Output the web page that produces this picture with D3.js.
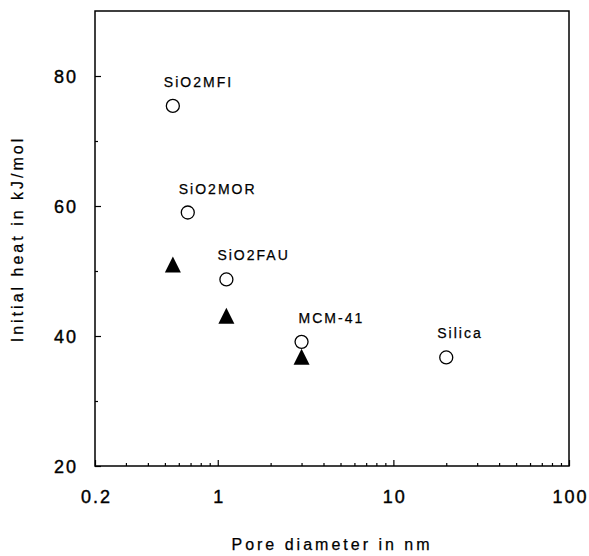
<!DOCTYPE html>
<html>
<head>
<meta charset="utf-8">
<script src="https://cdn.jsdelivr.net/npm/d3@7"></script>
<style>
  body { margin: 0; background: #fff; }
  text { font-family: Arial, "Liberation Sans", sans-serif; fill: #000; }
</style>
</head>
<body>
<div id="chart"></div>
<script>
// open circles: heat of adsorption per sample
const sampleNames = ["SiO2MFI", "SiO2MOR", "SiO2FAU", "MCM-41", "Silica"];
const poreOpen = [0.555, 0.675, 1.12, 3.0, 20];
const heatOpen = [75.4, 59.0, 48.7, 39.1, 36.7];

// filled triangles
const poreFilled = [0.555, 1.12, 3.0];
const heatFilled = [51.0, 43.1, 36.8];

const xMajor = [0.2, 1, 10, 100];
const yMajor = [20, 40, 60, 80];
const yMinor = [30, 50, 70];

const W = 589, H = 556;
const margin = { top: 11, right: 20, bottom: 90, left: 95 };
const width = W - margin.left - margin.right;
const height = H - margin.top - margin.bottom;

const svg = d3.select("#chart").append("svg")
    .attr("width", W)
    .attr("height", H);

const g = svg.append("g")
    .attr("transform", `translate(${margin.left},${margin.top})`);

const x = d3.scaleLog().domain([0.2, 100]).range([0, width]);
const y = d3.scaleLinear().domain([20, 90]).range([height, 0]);

// minor log ticks
let xMinor = [];
[0.1, 1, 10].forEach(dec => {
    for (let k = 2; k <= 9; k++) {
        let v = dec * k;
        if (v > 0.2 + 1e-9 && v < 100 - 1e-9 && Math.abs(v - 1) > 1e-9 && Math.abs(v - 10) > 1e-9) xMinor.push(v);
    }
});

g.append("g")
    .attr("transform", `translate(0,${height})`)
    .call(d3.axisBottom(x).tickValues(xMinor).tickSize(-3).tickFormat(""))
    .call(a => a.select(".domain").remove())
    .call(a => a.selectAll("line").attr("stroke", "#000").attr("stroke-width", 1.2));

g.append("g")
    .attr("transform", `translate(0,${height})`)
    .call(d3.axisBottom(x).tickValues(xMajor).tickSize(-6).tickPadding(24).tickFormat(d => d))
    .call(a => a.select(".domain").remove())
    .call(a => a.selectAll("line").attr("stroke", "#000").attr("stroke-width", 1.2))
    .call(a => a.selectAll("text")
        .attr("font-size", "18px")
        .attr("letter-spacing", "2px")
        .attr("dx", "1px")
        .attr("stroke", "#000")
        .attr("stroke-width", 0.4)
        .style("font-family", "Arial, 'Liberation Sans', sans-serif"));

g.append("g")
    .call(d3.axisLeft(y).tickValues(yMinor).tickSize(-3).tickFormat(""))
    .call(a => a.select(".domain").remove())
    .call(a => a.selectAll("line").attr("stroke", "#000").attr("stroke-width", 1.2));

g.append("g")
    .call(d3.axisLeft(y).tickValues(yMajor).tickSize(-6).tickPadding(17).tickFormat(d => d))
    .call(a => a.select(".domain").remove())
    .call(a => a.selectAll("line").attr("stroke", "#000").attr("stroke-width", 1.2))
    .call(a => a.selectAll("text")
        .attr("font-size", "18px")
        .attr("letter-spacing", "2px")
        .attr("dy", "0.36em")
        .attr("stroke", "#000")
        .attr("stroke-width", 0.4)
        .style("font-family", "Arial, 'Liberation Sans', sans-serif"));

// frame
g.append("rect")
    .attr("width", width)
    .attr("height", height)
    .attr("fill", "none")
    .attr("stroke", "#000")
    .attr("stroke-width", 1.5);

// open circles
g.selectAll("circle.open")
    .data(poreOpen)
    .enter()
    .append("circle")
    .attr("class", "open")
    .attr("cx", d => x(d))
    .attr("cy", (d, i) => y(heatOpen[i]))
    .attr("r", 6.5)
    .attr("fill", "#fff")
    .attr("stroke", "#000")
    .attr("stroke-width", 1.3);

// filled triangles (bbox centred on the point)
g.selectAll("path.filled")
    .data(poreFilled)
    .enter()
    .append("path")
    .attr("class", "filled")
    .attr("d", "M0,-8L8,8L-8,8Z")
    .attr("transform", (d, i) => `translate(${x(d)},${y(heatFilled[i])})`)
    .attr("fill", "#000");

// sample labels
const labelDx = { "MCM-41": -3 };
g.selectAll("text.sample")
    .data(sampleNames)
    .enter()
    .append("text")
    .attr("class", "sample")
    .attr("x", (d, i) => x(poreOpen[i]) + (labelDx[d] !== undefined ? labelDx[d] : -9))
    .attr("y", (d, i) => y(heatOpen[i]) - 19)
    .attr("font-size", "14px")
    .attr("letter-spacing", "2px")
    .attr("stroke", "#000")
    .attr("stroke-width", 0.25)
    .text(d => d);

// axis titles
svg.append("text")
    .attr("x", margin.left + width / 2)
    .attr("y", 550)
    .attr("text-anchor", "middle")
    .attr("font-size", "16px")
    .attr("letter-spacing", "3px")
    .attr("stroke", "#000")
    .attr("stroke-width", 0.25)
    .text("Pore diameter in nm");

svg.append("text")
    .attr("transform", "translate(23,239) rotate(-90)")
    .attr("text-anchor", "middle")
    .attr("font-size", "16px")
    .attr("letter-spacing", "3px")
    .attr("stroke", "#000")
    .attr("stroke-width", 0.25)
    .text("Initial heat in kJ/mol");
</script>
</body>
</html>
